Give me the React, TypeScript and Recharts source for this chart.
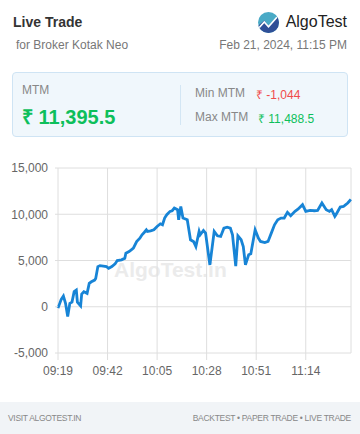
import { LineChart, Line, XAxis, YAxis, CartesianGrid } from 'recharts';

// MTM samples through the session
const times = [
  '09:19:00', '09:20:30', '09:21:30', '09:22:30', '09:23:30', '09:24:30', '09:25:30', '09:26:30',
  '09:27:30', '09:28:00', '09:29:30', '09:30:00', '09:31:00', '09:32:30', '09:33:30', '09:34:30',
  '09:36:00', '09:36:30', '09:37:30', '09:38:30', '09:40:00', '09:41:30', '09:42:30', '09:44:00',
  '09:45:30', '09:46:30', '09:48:30', '09:50:00', '09:50:30', '09:52:00', '09:53:00', '09:54:00',
  '09:55:30', '09:57:00', '09:58:00', '09:59:00', '10:00:00', '10:00:30', '10:02:00', '10:03:30',
  '10:05:00', '10:06:30', '10:07:30', '10:08:30', '10:09:30', '10:11:00', '10:12:00', '10:13:00',
  '10:14:30', '10:15:00', '10:16:00', '10:17:00', '10:19:00', '10:20:30', '10:22:00', '10:23:00',
  '10:24:30', '10:25:00', '10:26:30', '10:27:30', '10:29:30', '10:31:30', '10:33:00', '10:34:30',
  '10:36:00', '10:37:30', '10:39:00', '10:40:00', '10:41:30', '10:42:30', '10:44:00', '10:45:00',
  '10:46:00', '10:47:30', '10:48:30', '10:50:30', '10:52:00', '10:53:00', '10:55:00', '10:56:30',
  '10:58:00', '10:59:30', '11:01:00', '11:02:30', '11:04:00', '11:05:30', '11:07:00', '11:09:00',
  '11:10:30', '11:12:30', '11:14:00', '11:16:00', '11:18:00', '11:19:30', '11:21:30', '11:23:30',
  '11:25:00', '11:26:00', '11:27:30', '11:28:00', '11:30:00', '11:31:30', '11:32:00', '11:33:30',
  '11:34:30', '11:35:00',
];

const mtm = [
  -150, 800, 1150, 370, -1044, 370, 500, 1630,
  1800, 500, 100, 1380, 1630, 1450, 2530, 2700,
  2880, 3060, 4340, 4450, 4400, 4340, 4160, 4340,
  4630, 5000, 5070, 5250, 5790, 5970, 6150, 6330,
  7050, 7410, 7780, 8030, 8320, 8140, 8200, 8320,
  8680, 8970, 8860, 9590, 9950, 10310, 10380, 10670,
  10490, 9400, 10850, 9590, 9400, 7240, 7020, 6500,
  8140, 7780, 8250, 7960, 4520, 8140, 7670, 7600,
  8500, 8610, 8500, 7780, 4400, 7670, 7240, 6510,
  4520, 5610, 5720, 8320, 7420, 7060, 6940, 7060,
  7960, 8860, 9400, 9590, 9590, 10200, 9840, 10310,
  10570, 11030, 10310, 10420, 10380, 10420, 11220, 10490,
  10310, 10490, 9770, 9950, 10780, 10850, 10930, 11220,
  11488.5, 11395.5,
];

const xTicks = ['09:19', '09:42', '10:05', '10:28', '10:51', '11:14'];
const yTicks = [-5000, 0, 5000, 10000, 15000];

const toMin = (s: string) => {
  const [h, m, sec] = s.split(':').map(Number);
  return h * 60 + m + (sec || 0) / 60;
};
const fmtTime = (v: number) => {
  const h = Math.floor(v / 60);
  const m = Math.round(v - h * 60);
  return `${String(h).padStart(2, '0')}:${String(m).padStart(2, '0')}`;
};

const data = times.map((t, i) => ({ t: toMin(t), mtm: mtm[i] }));

const font = '"Liberation Sans", Arial, sans-serif';

function Logo() {
  return (
    <svg width={21} height={21} viewBox='0 0 20 20' style={{ position: 'absolute', left: 258, top: 12 }}>
      <defs>
        <clipPath id='c'>
          <circle cx={10} cy={10} r={10} />
        </clipPath>
      </defs>
      <g clipPath='url(#c)'>
        <rect x={0} y={0} width={20} height={20} fill='#4aaac6' />
        <path d='M0 13 L6 8 L10 13 L20 4 L20 20 L0 20 Z' fill='#2f4f97' />
        <path d='M1 15 L6 9.5 L10 14 L18 5' fill='none' stroke='#fff' strokeWidth={1.6} />
      </g>
    </svg>
  );
}

export default function App() {
  return (
    <div
      style={{
        position: 'absolute',
        left: 0,
        top: 0,
        width: 360,
        height: 434,
        background: '#fff',
        fontFamily: font,
        overflow: 'hidden',
      }}
    >
      {/* header */}
      <div style={{ position: 'absolute', left: 13, top: 14, fontSize: 14, fontWeight: 700, color: '#333' }}>
        Live Trade
      </div>
      <div style={{ position: 'absolute', left: 16, top: 38, fontSize: 12, color: '#777' }}>
        for Broker Kotak Neo
      </div>
      <Logo />
      <div style={{ position: 'absolute', right: 13, top: 13, fontSize: 16, color: '#222' }}>AlgoTest</div>
      <div style={{ position: 'absolute', right: 13, top: 38, fontSize: 12, color: '#777' }}>
        Feb 21, 2024, 11:15 PM
      </div>

      {/* summary card */}
      <div
        style={{
          position: 'absolute',
          left: 12,
          top: 72,
          width: 334,
          height: 63,
          background: '#f0f7fc',
          border: '1px solid #cfe4f4',
          borderRadius: 4,
        }}
      >
        <div style={{ position: 'absolute', left: 9, top: 10, fontSize: 12, color: '#888' }}>MTM</div>
        <div style={{ position: 'absolute', left: 9, top: 30, fontSize: 20, fontWeight: 700, color: '#0dbf5b' }}>
          ₹ 11,395.5
        </div>
        <div style={{ position: 'absolute', left: 167, top: 12, width: 1, height: 40, background: '#d3e6f4' }} />
        <div style={{ position: 'absolute', left: 182, top: 13, fontSize: 12, color: '#888' }}>Min MTM</div>
        <div style={{ position: 'absolute', left: 243, top: 13, fontSize: 12, color: '#f04b4b' }}>₹ -1,044</div>
        <div style={{ position: 'absolute', left: 182, top: 37, fontSize: 12, color: '#888' }}>Max MTM</div>
        <div style={{ position: 'absolute', left: 245, top: 37, fontSize: 12, color: '#0dbf5b' }}>₹ 11,488.5</div>
      </div>

      {/* watermark */}
      <div
        style={{
          position: 'absolute',
          left: 114,
          top: 258,
          fontSize: 21,
          fontWeight: 700,
          color: '#ebebeb',
        }}
      >
        AlgoTest.in
      </div>

      <div style={{ position: 'absolute', left: 0, top: 150 }}>
        <LineChart width={360} height={240} data={data} margin={{ top: 18, right: 9, left: 0, bottom: 12 }}>
          <CartesianGrid stroke='#dedede' />
          <XAxis
            dataKey='t'
            type='number'
            domain={['dataMin', 'dataMax']}
            ticks={xTicks.map(toMin)}
            tickFormatter={fmtTime}
            axisLine={false}
            tickLine={{ stroke: '#dedede' }}
            tickSize={7}
            tickMargin={6}
            height={25}
            tick={{ fontSize: 12, fill: '#666', fontFamily: font }}
          />
          <YAxis
            domain={[-5000, 15000]}
            ticks={yTicks}
            tickFormatter={(v: number) => v.toLocaleString('en-US')}
            axisLine={false}
            tickLine={{ stroke: '#dedede' }}
            tickSize={3}
            tickMargin={7}
            width={58}
            tick={{ fontSize: 12, fill: '#666', fontFamily: font }}
          />
          <Line
            type='linear'
            dataKey='mtm'
            stroke='#1784d6'
            strokeWidth={2.8}
            dot={false}
            isAnimationActive={false}
          />
        </LineChart>
      </div>

      {/* footer */}
      <div
        style={{
          position: 'absolute',
          left: 0,
          top: 402,
          width: 360,
          height: 32,
          background: '#f1f4f7',
          fontSize: 8.5,
          color: '#888',
          letterSpacing: -0.3,
        }}
      >
        <div style={{ position: 'absolute', left: 8, top: 11 }}>VISIT ALGOTEST.IN</div>
        <div style={{ position: 'absolute', right: 9, top: 11 }}>BACKTEST • PAPER TRADE • LIVE TRADE</div>
      </div>
    </div>
  );
}
